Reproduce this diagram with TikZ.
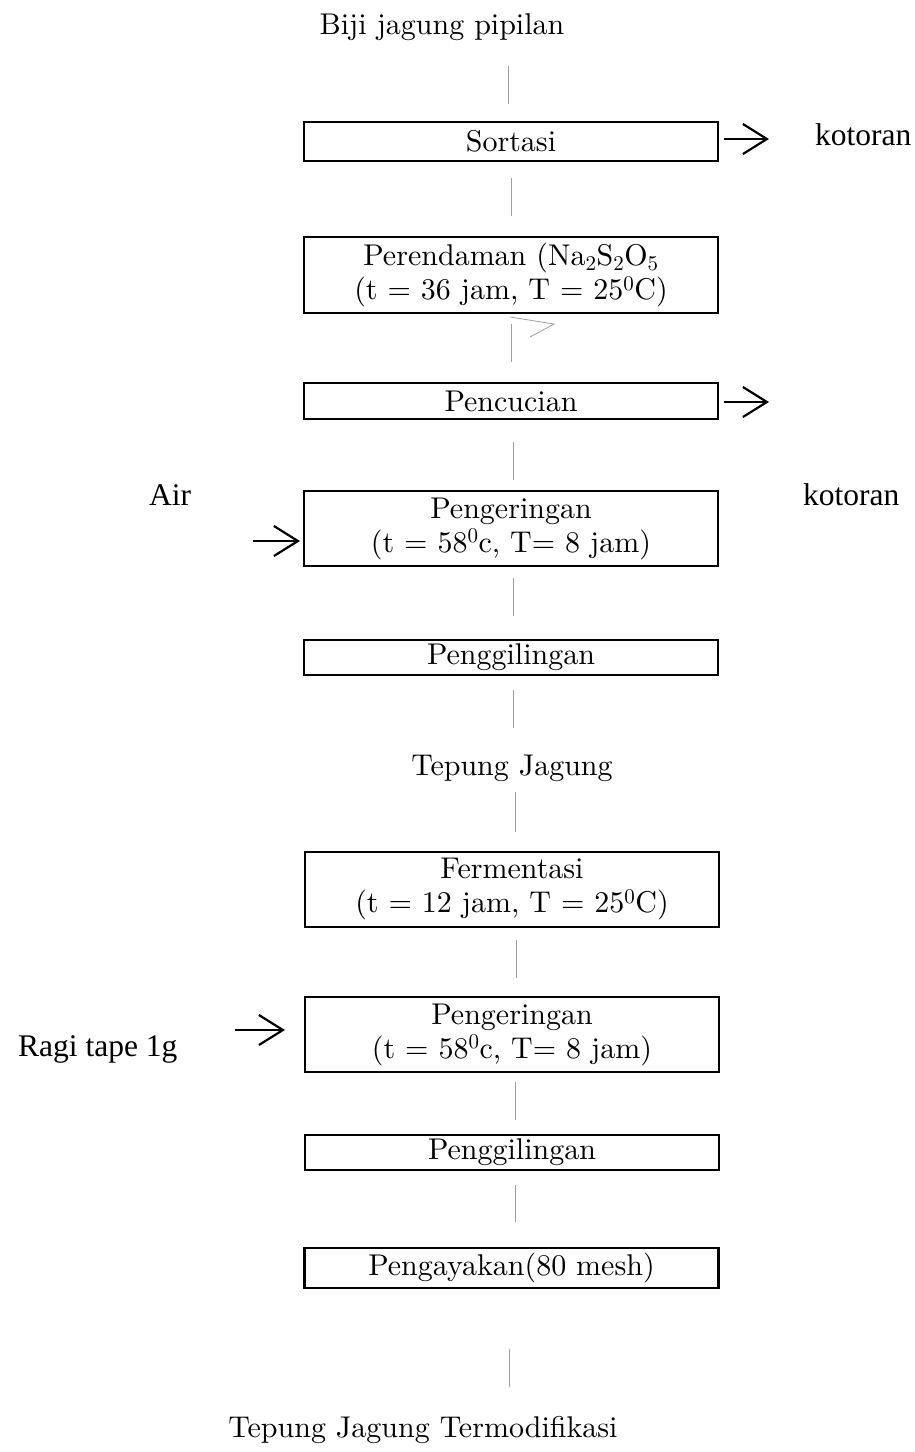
\documentclass[tikz,border=0pt]{standalone}
\usepackage{fontspec}
\setmainfont{lmroman10-regular.otf}
\newfontfamily\tnr{Liberation Serif}
\usetikzlibrary{arrows.meta}
\begin{document}
\begin{tikzpicture}[x=1pt,y=-1pt,
  box/.style={draw=black,line width=2.4pt,minimum width=414pt,inner sep=0pt,align=center,
    font=\fontsize{30}{34}\selectfont},
  lbl/.style={inner sep=0pt,font=\fontsize{30}{34}\selectfont},
  tlbl/.style={inner sep=0pt,anchor=base west,font=\tnr\fontsize{31.5}{34}\selectfont},
  vline/.style={draw=black!38,line width=1pt},
  arr/.style={draw=black,line width=2.2pt,-{Straight Barb[length=24pt,width=30pt,line width=2.2pt]}}]
\useasboundingbox (0,0) rectangle (915,1452);
% texts
\node[lbl,anchor=base] (title) at (442,34) {Biji jagung pipilan};
\node[lbl,anchor=base] (tj) at (512,775) {Tepung Jagung};
\node[lbl,anchor=base] (tjt) at (423,1437) {Tepung Jagung Termodifikasi};
% boxes
\node[box,minimum height=39pt] (sort) at (511,141.5) {Sortasi};
\node[box,minimum height=76pt] (peren) at (511,275) {Perendaman (Na\textsubscript{2}S\textsubscript{2}O\textsubscript{5}\\(t = 36 jam, T = 25\textsuperscript{0}C)};
\node[box,minimum height=36pt] (cuci) at (511,401) {Pencucian};
\node[box,minimum height=75pt] (ker1) at (511,528.5) {Pengeringan\\(t = 58\textsuperscript{0}c, T= 8 jam)};
\node[box,minimum height=35pt] (gil1) at (511,657.5) {Penggilingan};
\node[box,minimum height=75pt] (ferm) at (512,889.5) {Fermentasi\\(t = 12 jam, T = 25\textsuperscript{0}C)};
\node[box,minimum height=75pt] (ker2) at (512,1034.5) {Pengeringan\\(t = 58\textsuperscript{0}c, T= 8 jam)};
\node[box,minimum height=35pt] (gil2) at (512,1152.5) {Penggilingan};
\node[box,minimum height=40pt] (ayak) at (511.5,1268) {Pengayakan(80 mesh)};
% side labels
\node[tlbl] (kot1) at (815,145) {kotoran};
\node[tlbl] (kot2) at (803,505) {kotoran};
\node[tlbl] (air) at (149,505) {Air};
\node[tlbl] (ragi) at (18,1056) {Ragi tape 1g};
% vertical connectors
\coordinate (l1a) at (508,66);   \coordinate (l1b) at (508,104);
\coordinate (l2a) at (511,178);  \coordinate (l2b) at (511,216);
\coordinate (l3a) at (511,324);  \coordinate (l3b) at (511,362);
\coordinate (l4a) at (513,442);  \coordinate (l4b) at (513,480);
\coordinate (l5a) at (513,578);  \coordinate (l5b) at (513,616);
\coordinate (l6a) at (513,690);  \coordinate (l6b) at (513,728);
\coordinate (l7a) at (515,792);  \coordinate (l7b) at (515,832);
\coordinate (l8a) at (516,940);  \coordinate (l8b) at (516,978);
\coordinate (l9a) at (515,1082); \coordinate (l9b) at (515,1120);
\coordinate (l10a) at (515,1185); \coordinate (l10b) at (515,1222);
\coordinate (l11a) at (509,1349); \coordinate (l11b) at (509,1387);
\foreach \i in {1,...,11} {\draw[vline] (l\i a) -- (l\i b);}
% stray mark under Perendaman
\coordinate (tr1) at (510,317); \coordinate (tr2) at (554,324); \coordinate (tr3) at (530,337);
\draw[vline,line width=0.8pt] (tr1) -- (tr2) -- (tr3);
% side arrows
\coordinate (a1a) at (724,139);  \coordinate (a1b) at (769,139);
\coordinate (a2a) at (724,402);  \coordinate (a2b) at (769,402);
\coordinate (a3a) at (253,541);  \coordinate (a3b) at (300,541);
\coordinate (a4a) at (235,1030); \coordinate (a4b) at (285,1030);
\draw[arr] (a1a) -- (a1b);
\draw[arr] (a2a) -- (a2b);
\draw[arr] (a3a) -- (a3b);
\draw[arr] (a4a) -- (a4b);
\end{tikzpicture}
\end{document}
